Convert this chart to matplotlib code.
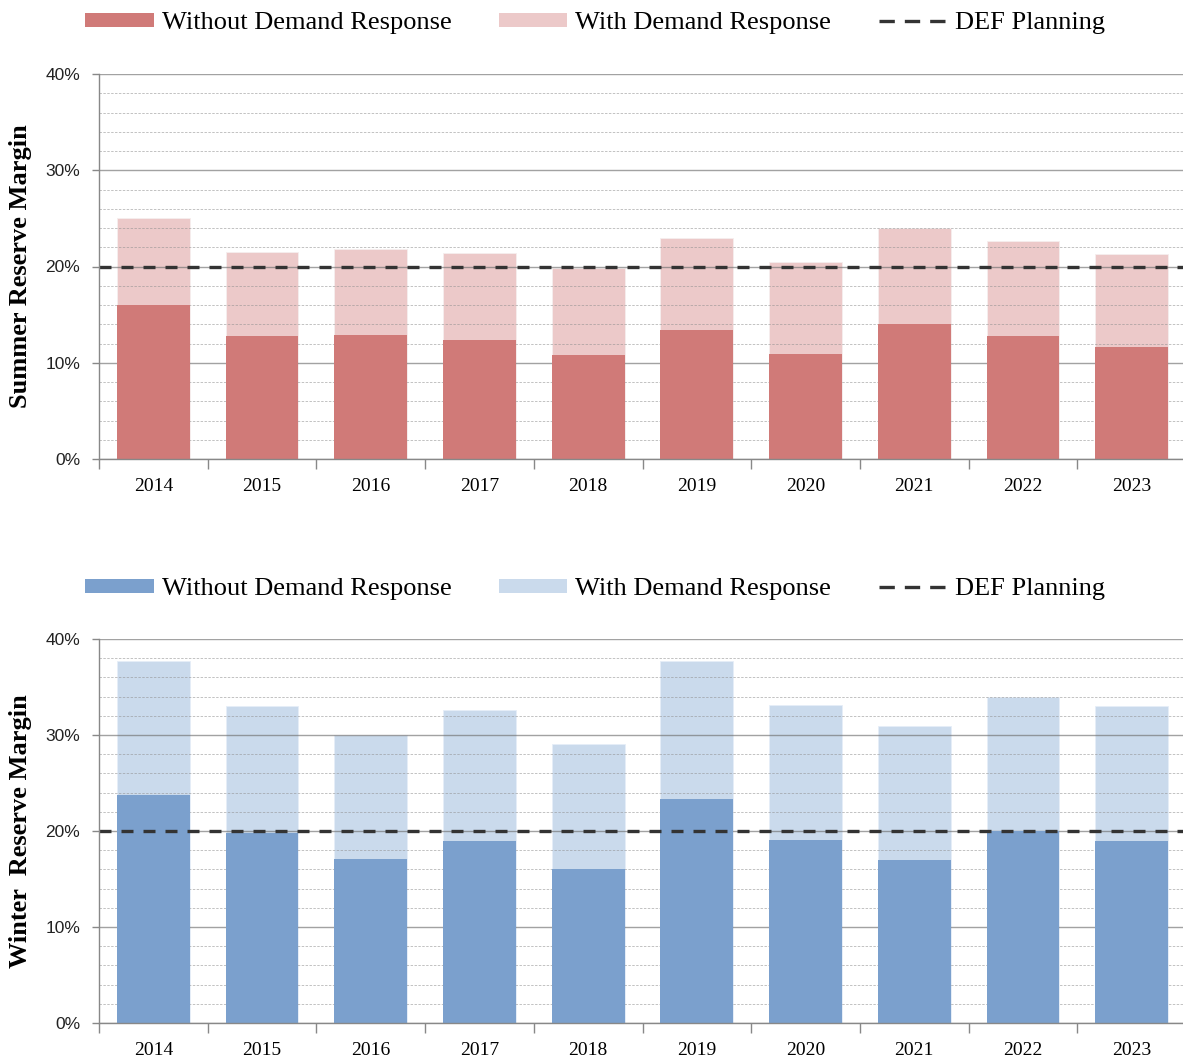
import matplotlib
matplotlib.use("Agg")
import matplotlib.pyplot as plt
from matplotlib.patches import Patch
from matplotlib.lines import Line2D
from matplotlib.ticker import MultipleLocator, FuncFormatter

years = ["2014", "2015", "2016", "2017", "2018", "2019", "2020", "2021", "2022", "2023"]

summer_without_dr = [16.0, 12.8, 12.9, 12.4, 10.8, 13.4, 10.9, 14.0, 12.8, 11.6]
summer_with_dr = [25.0, 21.5, 21.8, 21.4, 19.8, 23.0, 20.5, 24.0, 22.6, 21.3]

winter_without_dr = [23.8, 19.8, 17.1, 19.0, 16.0, 23.3, 19.1, 17.0, 20.0, 19.0]
winter_with_dr = [37.7, 33.0, 30.0, 32.6, 29.1, 37.7, 33.1, 30.9, 34.0, 33.0]

planning_target = 20.0

series_labels = ["Without Demand Response", "With Demand Response", "DEF Planning"]

W, H = 1183, 1059
fig = plt.figure(figsize=(W / 100, H / 100), dpi=100)

serif = ["Liberation Serif", "DejaVu Serif"]
sans = ["Liberation Sans", "DejaVu Sans"]
DASH = (0, (3.6, 3.0))
LEGEND_DASH = (0, (4.6, 3.0))


def px_axes(left, top, right, bottom):
    return fig.add_axes([left / W, 1 - bottom / H, (right - left) / W, (bottom - top) / H])


def draw_panel(ax, without, with_dr, dark, light, edge, ylabel):
    x = list(range(len(years)))
    ax.bar(x, with_dr, width=0.67, color=light, zorder=2, edgecolor=edge, linewidth=0.6)
    ax.bar(x, without, width=0.67, color=dark, zorder=3)
    ax.set_xlim(-0.5, len(years) - 0.5)
    ax.set_ylim(0, 40)

    # grid drawn over the bars so the lines show faintly through them
    ax.yaxis.set_major_locator(MultipleLocator(10))
    ax.yaxis.set_minor_locator(MultipleLocator(2))
    ax.grid(which="major", axis="y", color="#707070", alpha=0.65, linewidth=1.0, zorder=4)
    ax.grid(which="minor", axis="y", color="#909090", alpha=0.55, linewidth=0.7,
            linestyle=(0, (2.5, 1.5)), zorder=4)
    ax.set_axisbelow(False)

    ax.axhline(planning_target, color="#333333", linewidth=2.4, linestyle=DASH, zorder=5)

    ax.yaxis.set_major_formatter(FuncFormatter(lambda v, p: f"{v:.0f}%"))
    ax.tick_params(axis="y", which="major", length=5, width=1, color="#888888", pad=8.5,
                   labelsize=12.5, labelcolor="#222222")
    ax.tick_params(axis="y", which="minor", length=0)
    for t in ax.get_yticklabels():
        t.set_fontfamily(sans)

    # category labels centred, tick marks on category boundaries
    ax.set_xticks(x)
    ax.set_xticklabels(years, fontfamily=serif, fontsize=14)
    ax.tick_params(axis="x", which="major", length=0, pad=14)
    ax.set_xticks([i - 0.5 for i in range(len(years) + 1)], minor=True)
    ax.tick_params(axis="x", which="minor", length=7, width=1, color="#888888")

    for side in ("top", "right"):
        ax.spines[side].set_visible(False)
    for side in ("left", "bottom"):
        ax.spines[side].set_color("#888888")
        ax.spines[side].set_linewidth(1.0)
        ax.spines[side].set_zorder(6)

    ax.set_ylabel(ylabel, fontfamily=serif, fontweight="bold", fontsize=19)
    ax.yaxis.set_label_coords(-0.062, 0.5)


def draw_legend(dark, light, y_px):
    handles = [
        Patch(facecolor=dark, edgecolor="none"),
        Patch(facecolor=light, edgecolor="none"),
        Line2D([0], [0], color="#333333", linewidth=2.4, linestyle=LEGEND_DASH),
    ]
    fig.legend(handles, series_labels, loc="center left",
               bbox_to_anchor=(85 / W, 1 - y_px / H), ncol=3, frameon=False,
               prop={"family": serif, "size": 19},
               handlelength=2.6, handleheight=0.45, handletextpad=0.3,
               columnspacing=1.8, borderpad=0, borderaxespad=0)


red_dark, red_light = "#D07A78", "#ECC9C9"
blue_dark, blue_light = "#7BA0CD", "#CADAEC"

ax1 = px_axes(99, 74, 1186, 459)
draw_panel(ax1, summer_without_dr, summer_with_dr, red_dark, red_light, "#f6eeee",
           "Summer Reserve Margin")
draw_legend(red_dark, red_light, 23)

ax2 = px_axes(99, 639, 1186, 1023)
draw_panel(ax2, winter_without_dr, winter_with_dr, blue_dark, blue_light, "#e6eef8",
           "Winter  Reserve Margin")
draw_legend(blue_dark, blue_light, 589)

fig.savefig("out.png", dpi=100)
